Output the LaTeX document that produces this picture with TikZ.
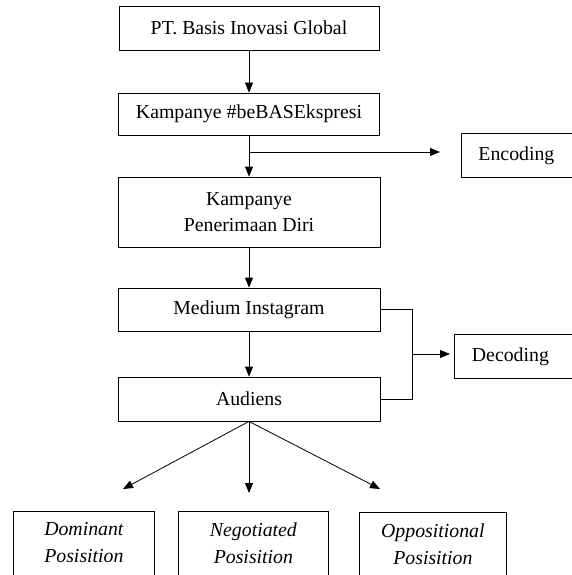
\documentclass[tikz,border=0pt]{standalone}
\usepackage{fontspec}
\setmainfont{Liberation Serif}
\usetikzlibrary{arrows.meta}
\begin{document}
\begin{tikzpicture}[x=1pt,y=-1pt,
  every node/.style={font=\fontsize{19.8}{26}\selectfont},
  box/.style={draw, line width=0.8pt, inner sep=0pt, align=center},
  conn/.style={line width=0.8pt},
  arr/.style={conn, -{Triangle[width=8pt,length=10pt]}},
  ital/.style={font=\fontsize{19.8}{27}\selectfont\itshape}]
\useasboundingbox (0,0) rectangle (572,575);
\clip (0,0) rectangle (572,575);
\node[box, minimum width=260pt, minimum height=44pt] (b1) at (249,28) {PT. Basis Inovasi Global};
\node[box, minimum width=261pt, minimum height=42pt] (b2) at (249,114) {Kampanye \#beBASEkspresi};
\node[box, minimum width=262pt, minimum height=70pt] (b3) at (249,212) {Kampanye\\Penerimaan Diri};
\node[box, minimum width=262pt, minimum height=43pt] (b4) at (249,309.5) {Medium Instagram};
\node[box, minimum width=262pt, minimum height=44pt] (b5) at (249,399) {Audiens};
\node[box, minimum width=140pt, minimum height=44pt, anchor=north west] (enc) at (461,133) {\hspace*{-30pt}Encoding};
\node[box, minimum width=140pt, minimum height=44pt, anchor=north west] (dec) at (454,334) {\hspace*{-28pt}Decoding};
\node[box, ital, minimum width=141pt, minimum height=90pt, anchor=north west] (d1) at (13,511) {Dominant\\Posisition\\\mbox{}};
\node[box, ital, minimum width=150pt, minimum height=90pt, anchor=north west] (d2) at (178,511) {Negotiated\\Posisition\\\mbox{}};
\node[box, ital, minimum width=147pt, minimum height=90pt, anchor=north west] (d3) at (359,512) {Oppositional\\Posisition\\\mbox{}};
\coordinate (br) at (249,152);
\coordinate (encA) at (440,152);
\coordinate (bx1) at (412,309.5);
\coordinate (bx2) at (412,399);
\coordinate (bxm) at (412,354);
\coordinate (decA) at (450,354);
\coordinate (t1) at (123,489);
\coordinate (t2) at (249,493);
\coordinate (t3) at (380,489);
\draw[arr] (b1.south) -- (b2.north);
\draw[arr] (b2.south) -- (b3.north);
\draw[arr] (br) -- (encA);
\draw[arr] (b3.south) -- (b4.north);
\draw[arr] (b4.south) -- (b5.north);
\draw[conn] (b4.east) -- (bx1) -- (bx2) -- (b5.east);
\draw[arr] (bxm) -- (decA);
\draw[arr] (b5.south) -- (t1);
\draw[arr] (b5.south) -- (t2);
\draw[arr] (b5.south) -- (t3);
\end{tikzpicture}
\end{document}
